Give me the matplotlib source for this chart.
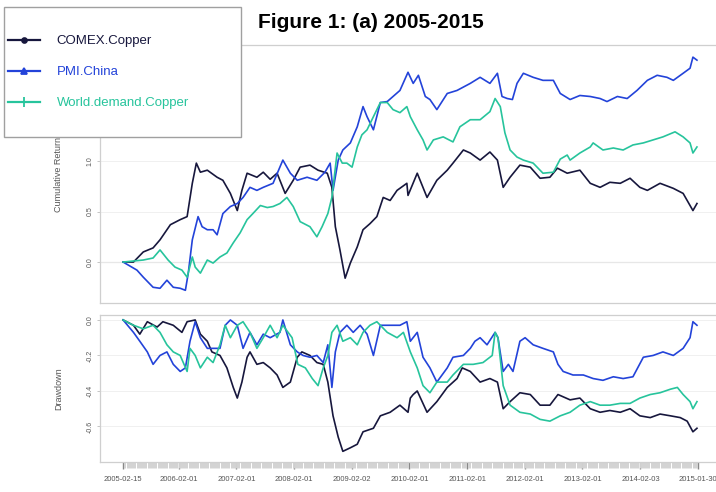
import numpy as np
import pandas as pd
import matplotlib
matplotlib.use("Agg")
import matplotlib.pyplot as plt
from matplotlib.lines import Line2D
from matplotlib.patches import Rectangle

plt.rcParams['font.family'] = ['Liberation Sans', 'DejaVu Sans']

# ---- data (time in decimal years) ----
series_names = ['COMEX.Copper', 'PMI.China', 'World.demand.Copper']
series_colors = ['#17173d', '#2343d9', '#27c49c']

# cumulative return
comex_t = [2005.12, 2005.30, 2005.47, 2005.64, 2005.76, 2005.94, 2006.11, 2006.23, 2006.32, 2006.39,
           2006.46, 2006.58, 2006.75, 2006.85, 2006.98, 2007.10, 2007.18, 2007.27, 2007.44, 2007.55,
           2007.67, 2007.79, 2007.93, 2008.07, 2008.19, 2008.36, 2008.50, 2008.66, 2008.74, 2008.80,
           2008.88, 2008.97, 2009.06, 2009.18, 2009.28, 2009.40, 2009.52, 2009.63, 2009.75, 2009.87,
           2010.04, 2010.06, 2010.22, 2010.39, 2010.56, 2010.74, 2010.84, 2011.02, 2011.14, 2011.31,
           2011.48, 2011.61, 2011.71, 2011.83, 2012.00, 2012.18, 2012.35, 2012.52, 2012.65, 2012.82,
           2013.04, 2013.22, 2013.39, 2013.56, 2013.74, 2013.91, 2014.08, 2014.21, 2014.43, 2014.66,
           2014.83, 2015.00, 2015.07]
comex_cum = [0.00, 0.00, 0.10, 0.14, 0.22, 0.37, 0.42, 0.45, 0.78, 0.98,
             0.89, 0.91, 0.84, 0.81, 0.68, 0.51, 0.71, 0.88, 0.84, 0.89,
             0.82, 0.88, 0.68, 0.81, 0.94, 0.96, 0.91, 0.88, 0.74, 0.35,
             0.12, -0.16, -0.01, 0.15, 0.32, 0.38, 0.45, 0.64, 0.61, 0.71,
             0.78, 0.66, 0.88, 0.64, 0.81, 0.91, 0.98, 1.11, 1.08, 1.01,
             1.09, 1.01, 0.74, 0.84, 0.96, 0.94, 0.83, 0.84, 0.93, 0.88,
             0.91, 0.78, 0.74, 0.79, 0.78, 0.83, 0.74, 0.71, 0.78, 0.73,
             0.68, 0.51, 0.58]

pmi_t = [2005.12, 2005.36, 2005.47, 2005.64, 2005.76, 2005.88, 2005.99, 2006.11, 2006.20, 2006.25,
         2006.32, 2006.42, 2006.49, 2006.58, 2006.68, 2006.75, 2006.85, 2006.98, 2007.10, 2007.20,
         2007.32, 2007.44, 2007.55, 2007.72, 2007.89, 2008.02, 2008.14, 2008.31, 2008.48, 2008.62,
         2008.71, 2008.76, 2008.85, 2008.93, 2009.06, 2009.18, 2009.28, 2009.35, 2009.46, 2009.58,
         2009.70, 2009.80, 2009.92, 2010.06, 2010.15, 2010.24, 2010.36, 2010.44, 2010.56, 2010.74,
         2010.91, 2011.14, 2011.31, 2011.48, 2011.61, 2011.69, 2011.78, 2011.87, 2011.95, 2012.06,
         2012.23, 2012.40, 2012.58, 2012.70, 2012.87, 2013.04, 2013.22, 2013.39, 2013.51, 2013.69,
         2013.86, 2014.03, 2014.21, 2014.38, 2014.55, 2014.66, 2014.83, 2014.95, 2015.00, 2015.07]
pmi_cum = [0.00, -0.08, -0.15, -0.25, -0.26, -0.18, -0.25, -0.26, -0.28, -0.11,
           0.22, 0.45, 0.35, 0.32, 0.32, 0.27, 0.48, 0.55, 0.58, 0.64,
           0.74, 0.71, 0.74, 0.78, 1.01, 0.88, 0.81, 0.84, 0.81, 0.89,
           0.98, 0.71, 1.01, 1.11, 1.18, 1.34, 1.54, 1.44, 1.31, 1.58,
           1.59, 1.64, 1.70, 1.88, 1.77, 1.85, 1.64, 1.61, 1.51, 1.67,
           1.70, 1.77, 1.83, 1.77, 1.87, 1.64, 1.62, 1.61, 1.77, 1.87,
           1.83, 1.80, 1.80, 1.67, 1.61, 1.65, 1.64, 1.62, 1.59, 1.64,
           1.62, 1.70, 1.80, 1.85, 1.83, 1.80, 1.87, 1.92, 2.03, 2.00]

world_t = [2005.12, 2005.47, 2005.64, 2005.76, 2005.90, 2006.02, 2006.14, 2006.23, 2006.32, 2006.37,
           2006.46, 2006.58, 2006.68, 2006.80, 2006.92, 2007.03, 2007.15, 2007.27, 2007.37, 2007.50,
           2007.62, 2007.72, 2007.84, 2007.96, 2008.07, 2008.19, 2008.36, 2008.48, 2008.57, 2008.67,
           2008.74, 2008.83, 2008.92, 2009.00, 2009.09, 2009.18, 2009.26, 2009.35, 2009.46, 2009.58,
           2009.70, 2009.80, 2009.92, 2010.04, 2010.10, 2010.22, 2010.32, 2010.39, 2010.50, 2010.67,
           2010.84, 2010.96, 2011.14, 2011.31, 2011.48, 2011.57, 2011.66, 2011.74, 2011.83, 2011.95,
           2012.06, 2012.23, 2012.40, 2012.58, 2012.70, 2012.82, 2012.87, 2013.04, 2013.22, 2013.27,
           2013.44, 2013.62, 2013.79, 2013.96, 2014.14, 2014.31, 2014.48, 2014.69, 2014.83, 2014.95,
           2015.00, 2015.07]
world_cum = [0.00, 0.02, 0.04, 0.12, 0.02, -0.05, -0.08, -0.15, 0.05, -0.05,
             -0.11, 0.02, -0.01, 0.05, 0.09, 0.19, 0.29, 0.42, 0.48, 0.56,
             0.54, 0.55, 0.58, 0.64, 0.55, 0.40, 0.35, 0.25, 0.35, 0.48,
             0.64, 1.08, 0.98, 0.98, 0.94, 1.14, 1.26, 1.31, 1.44, 1.58,
             1.58, 1.51, 1.48, 1.54, 1.44, 1.31, 1.21, 1.11, 1.21, 1.24,
             1.19, 1.34, 1.41, 1.41, 1.49, 1.62, 1.54, 1.28, 1.11, 1.04,
             1.01, 0.98, 0.88, 0.89, 1.02, 1.06, 1.01, 1.08, 1.14, 1.18,
             1.11, 1.13, 1.11, 1.16, 1.18, 1.21, 1.24, 1.29, 1.24, 1.18,
             1.08, 1.14]

# drawdown
comex_dd_t = [2005.12, 2005.30, 2005.41, 2005.54, 2005.71, 2005.81, 2005.99, 2006.14, 2006.23, 2006.37,
              2006.46, 2006.58, 2006.66, 2006.80, 2006.92, 2007.03, 2007.10, 2007.18, 2007.27, 2007.32,
              2007.44, 2007.55, 2007.67, 2007.79, 2007.89, 2008.02, 2008.14, 2008.22, 2008.36, 2008.48,
              2008.59, 2008.67, 2008.76, 2008.85, 2008.93, 2009.06, 2009.18, 2009.28, 2009.46, 2009.58,
              2009.75, 2009.92, 2010.06, 2010.10, 2010.15, 2010.22, 2010.39, 2010.56, 2010.74, 2010.91,
              2011.00, 2011.14, 2011.31, 2011.48, 2011.61, 2011.71, 2011.83, 2012.00, 2012.18, 2012.35,
              2012.52, 2012.66, 2012.87, 2013.04, 2013.22, 2013.39, 2013.56, 2013.74, 2013.91, 2014.08,
              2014.26, 2014.43, 2014.61, 2014.78, 2014.90, 2015.00, 2015.07]
comex_dd = [0.00, -0.03, -0.08, -0.01, -0.04, -0.01, -0.03, -0.07, -0.01, 0.00,
            -0.08, -0.12, -0.18, -0.20, -0.27, -0.38, -0.44, -0.35, -0.21, -0.18,
            -0.25, -0.24, -0.27, -0.31, -0.38, -0.35, -0.21, -0.18, -0.20, -0.24,
            -0.25, -0.35, -0.54, -0.66, -0.74, -0.72, -0.70, -0.63, -0.61, -0.54,
            -0.52, -0.48, -0.52, -0.44, -0.42, -0.40, -0.52, -0.46, -0.38, -0.33,
            -0.27, -0.29, -0.35, -0.33, -0.35, -0.50, -0.46, -0.41, -0.42, -0.48,
            -0.48, -0.42, -0.45, -0.44, -0.50, -0.52, -0.51, -0.52, -0.50, -0.54,
            -0.55, -0.53, -0.54, -0.55, -0.57, -0.63, -0.61]

pmi_dd_t = [2005.12, 2005.30, 2005.41, 2005.54, 2005.64, 2005.76, 2005.88, 2005.99, 2006.11, 2006.20,
            2006.28, 2006.37, 2006.46, 2006.58, 2006.68, 2006.80, 2006.89, 2006.98, 2007.10, 2007.20,
            2007.32, 2007.44, 2007.55, 2007.67, 2007.84, 2007.89, 2008.02, 2008.14, 2008.24, 2008.36,
            2008.48, 2008.59, 2008.67, 2008.74, 2008.80, 2008.88, 2009.00, 2009.11, 2009.23, 2009.35,
            2009.46, 2009.58, 2009.75, 2009.92, 2010.04, 2010.10, 2010.22, 2010.32, 2010.44, 2010.56,
            2010.74, 2010.84, 2011.02, 2011.14, 2011.22, 2011.31, 2011.43, 2011.57, 2011.62, 2011.71,
            2011.80, 2011.88, 2012.00, 2012.09, 2012.23, 2012.40, 2012.58, 2012.66, 2012.75, 2012.92,
            2013.10, 2013.27, 2013.44, 2013.62, 2013.79, 2013.96, 2014.14, 2014.31, 2014.48, 2014.66,
            2014.83, 2014.95, 2015.00, 2015.07]
pmi_dd = [0.00, -0.07, -0.12, -0.18, -0.25, -0.20, -0.18, -0.25, -0.29, -0.27,
          -0.12, -0.01, -0.10, -0.16, -0.16, -0.16, -0.03, 0.00, -0.03, -0.16,
          -0.07, -0.14, -0.08, -0.10, -0.07, 0.00, -0.14, -0.18, -0.20, -0.21,
          -0.20, -0.24, -0.14, -0.38, -0.18, -0.07, -0.03, -0.07, -0.03, -0.08,
          -0.20, -0.03, -0.03, -0.03, -0.01, -0.12, -0.07, -0.21, -0.27, -0.35,
          -0.27, -0.21, -0.20, -0.16, -0.12, -0.10, -0.14, -0.07, -0.10, -0.29,
          -0.25, -0.29, -0.12, -0.10, -0.14, -0.16, -0.18, -0.25, -0.29, -0.31,
          -0.31, -0.33, -0.34, -0.32, -0.33, -0.32, -0.21, -0.20, -0.18, -0.20,
          -0.16, -0.10, -0.01, -0.03]

world_dd_t = [2005.12, 2005.30, 2005.47, 2005.64, 2005.76, 2005.88, 2005.99, 2006.11, 2006.23, 2006.28,
              2006.37, 2006.46, 2006.58, 2006.68, 2006.80, 2006.89, 2006.98, 2007.10, 2007.20, 2007.32,
              2007.44, 2007.55, 2007.67, 2007.79, 2007.89, 2008.05, 2008.15, 2008.28, 2008.40, 2008.50,
              2008.59, 2008.67, 2008.74, 2008.83, 2008.93, 2009.06, 2009.18, 2009.28, 2009.40, 2009.52,
              2009.70, 2009.87, 2009.98, 2010.10, 2010.22, 2010.32, 2010.44, 2010.56, 2010.74, 2010.84,
              2011.02, 2011.19, 2011.36, 2011.52, 2011.57, 2011.62, 2011.71, 2011.83, 2012.00, 2012.18,
              2012.35, 2012.52, 2012.70, 2012.87, 2013.04, 2013.22, 2013.39, 2013.56, 2013.74, 2013.91,
              2014.08, 2014.26, 2014.43, 2014.61, 2014.73, 2014.83, 2014.95, 2015.00, 2015.07]
world_dd = [0.00, -0.03, -0.05, -0.03, -0.07, -0.14, -0.18, -0.20, -0.29, -0.16,
            -0.20, -0.27, -0.21, -0.24, -0.14, -0.03, -0.10, -0.03, -0.01, -0.07,
            -0.16, -0.10, -0.03, -0.10, -0.03, -0.10, -0.25, -0.27, -0.33, -0.37,
            -0.27, -0.20, -0.07, -0.03, -0.12, -0.10, -0.14, -0.07, -0.03, -0.01,
            -0.07, -0.10, -0.07, -0.18, -0.27, -0.37, -0.41, -0.35, -0.35, -0.31,
            -0.25, -0.25, -0.24, -0.20, -0.07, -0.10, -0.37, -0.48, -0.52, -0.53,
            -0.56, -0.57, -0.54, -0.52, -0.48, -0.46, -0.48, -0.48, -0.47, -0.47,
            -0.44, -0.42, -0.41, -0.39, -0.38, -0.42, -0.46, -0.50, -0.46]

date_labels = ['2005-02-15', '2006-02-01', '2007-02-01', '2008-02-01', '2009-02-02', '2010-02-01',
               '2011-02-01', '2012-02-01', '2013-02-01', '2014-02-03', '2015-01-30']


def dec_year(ts):
    ts = pd.Timestamp(ts)
    return ts.year + (ts.dayofyear - 1) / 365.25


major_pos = [dec_year(d) for d in date_labels]
# weekly minor ticks give the grey band under the drawdown panel
minor_pos = [dec_year(d) for d in pd.date_range('2005-02-15', '2015-01-30', freq='7D')]

# ---- figure ----
fig = plt.figure(figsize=(7.16, 4.92), dpi=100)
ax1 = fig.add_axes([0.1397, 0.3841, 0.8603, 0.5244])
ax2 = fig.add_axes([0.1397, 0.0610, 0.8603, 0.2988])

cum_data = [(comex_t, comex_cum), (pmi_t, pmi_cum), (world_t, world_cum)]
dd_data = [(comex_dd_t, comex_dd), (pmi_dd_t, pmi_dd), (world_dd_t, world_dd)]

for (t, v), c in zip(cum_data, series_colors):
    ax1.plot(t, v, color=c, lw=1.2)
for (t, v), c in zip(dd_data, series_colors):
    ax2.plot(t, v, color=c, lw=1.2)

ax1.axhline(0, color='#c8c8c8', lw=0.8, zorder=0)

for ax in (ax1, ax2):
    ax.set_xlim(2004.72, 2015.40)
    for side in ('left', 'top', 'bottom'):
        ax.spines[side].set_color('#cfcfcf')
        ax.spines[side].set_linewidth(0.9)
    ax.spines['right'].set_visible(False)
    ax.grid(axis='y', color='#eeeeee', lw=0.6)
    ax.set_axisbelow(True)
    ax.tick_params(axis='y', length=2.5, width=0.6, color='#bbbbbb',
                   labelsize=5, labelcolor='#555555', pad=2)

# upper ticks (1.5, 2.0) sit under the legend box in the reference, so only the visible ones
ax1.set_ylim(-0.406, 2.15)
ax1.set_yticks([0, 0.5, 1.0])
ax1.set_yticklabels(['0.0', '0.5', '1.0'], rotation=90, va='center')
ax1.set_xticks([])
ax1.set_ylabel('Cumulative Return', fontsize=6.5, color='#555555')
ax1.yaxis.set_label_coords(-0.060, 0.5)

ax2.set_ylim(-0.80, 0.028)
ax2.set_yticks([0, -0.2, -0.4, -0.6])
ax2.set_yticklabels(['0.0', '-0.2', '-0.4', '-0.6'], rotation=90, va='center')
ax2.set_xticks(major_pos)
ax2.set_xticklabels(date_labels)
ax2.set_xticks(minor_pos, minor=True)
ax2.tick_params(axis='x', which='major', length=5, width=1.0, color='#888888',
                labelsize=5.5, labelcolor='#555555', pad=5)
ax2.tick_params(axis='x', which='minor', length=4, width=0.7, color='#d2d2d2')
ax2.set_ylabel('Drawdown', fontsize=6.5, color='#555555')
ax2.yaxis.set_label_coords(-0.060, 0.5)

# title
fig.text(258 / 716, 1 - 22 / 492, 'Figure 1: (a) 2005-2015', fontsize=15,
         fontweight='bold', ha='left', va='center', color='black')

# legend box drawn over the top-left corner
fig.patches.append(Rectangle((4 / 716, 1 - 137 / 492), 237 / 716, 130 / 492,
                             transform=fig.transFigure, facecolor='white',
                             edgecolor='#a0a0a0', lw=1.0, zorder=4))
markers = [('o', 3.5), ('^', 4.5), ('+', 7)]
handles = [Line2D([], [], color=c, lw=1.6, marker=m, markersize=s, markeredgewidth=1.3)
           for c, (m, s) in zip(series_colors, markers)]
fig.legend(handles, series_names, loc='upper left', bbox_to_anchor=(8 / 716, 1 - 35 / 492),
           frameon=False, fontsize=9.5, handlelength=2.4, handletextpad=1.3,
           labelspacing=1.42, labelcolor='linecolor', borderpad=0, borderaxespad=0)

plt.savefig('out.png', dpi=100)
plt.close()
